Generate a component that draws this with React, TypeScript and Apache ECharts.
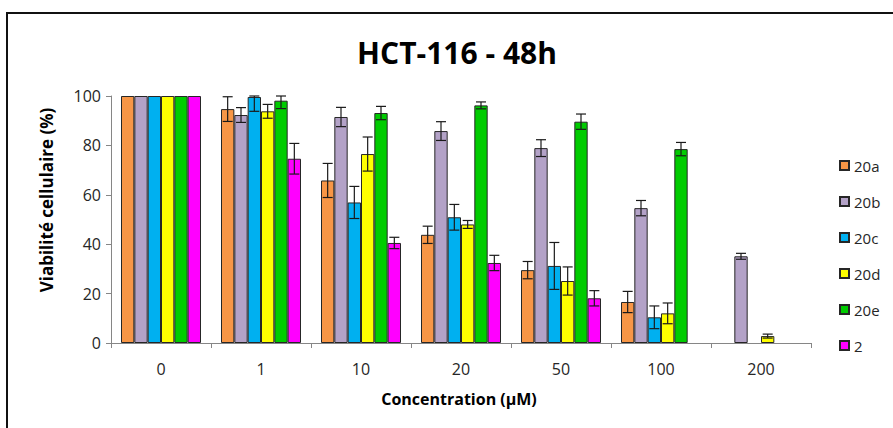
import React, { useEffect, useRef } from "react";
import * as echarts from "echarts";

const categories = ["0", "1", "10", "20", "50", "100", "200"];
const seriesNames = ["20a", "20b", "20c", "20d", "20e", "2"];
const seriesColors = ["#F79646", "#B3A2C7", "#00B0F0", "#FFFF00", "#00CC00", "#FF00FF"];

const v20a = [100, 94.7, 65.8, 43.8, 29.5, 16.6, null];
const v20b = [100, 92.3, 91.5, 85.8, 78.9, 54.6, 35.1];
const v20c = [100, 99.6, 56.9, 50.9, 31.2, 10.4, null];
const v20d = [100, 93.8, 76.5, 48.0, 25.1, 12.0, 2.8];
const v20e = [100, 98.1, 93.1, 96.2, 89.6, 78.5, null];
const v2 = [100, 74.6, 40.5, 32.4, 18.1, null, null];

const e20a = [0, 5.0, 6.9, 3.5, 3.5, 4.3, null];
const e20b = [0, 3.0, 3.9, 3.8, 3.4, 3.1, 1.2];
const e20c = [0, 5.8, 6.5, 5.2, 9.5, 4.6, null];
const e20d = [0, 2.8, 6.9, 1.6, 5.7, 4.2, 0.8];
const e20e = [0, 3.2, 2.7, 1.4, 3.1, 2.7, null];
const e2 = [0, 6.2, 2.3, 3.1, 3.1, null, null];

const allValues = [v20a, v20b, v20c, v20d, v20e, v2];
const allErrors = [e20a, e20b, e20c, e20d, e20e, e2];

const FONT = "'Open Sans', 'Liberation Sans', sans-serif";

export default function App() {
  const ref = useRef<HTMLDivElement>(null);

  useEffect(() => {
    if (!ref.current) return;
    const chart = echarts.init(ref.current, null, { renderer: "svg" });
    const nSeries = seriesNames.length;

    const barSeries = seriesNames.map((name, i) => ({
      name,
      type: "bar",
      data: allValues[i].map((v) => (v === null ? "-" : v)),
      barGap: "0%",
      barCategoryGap: "20%",
      itemStyle: { color: seriesColors[i], borderColor: "#262626", borderWidth: 1 },
      z: 2,
    }));

    const errSeries = seriesNames.map((name, i) => ({
      name: name + "-err",
      type: "custom",
      z: 5,
      silent: true,
      data: allValues[i]
        .map((v, k) => (v === null || !allErrors[i][k] ? null : [k, v, allErrors[i][k]]))
        .filter((d) => d !== null),
      renderItem: (params: any, api: any) => {
        const x = api.value(0);
        const v = api.value(1);
        const e = api.value(2);
        const cw = api.size([1, 0])[0];
        const bw = (cw * 0.8) / nSeries;
        const base = api.coord([x, v]);
        const cx = base[0] - cw * 0.4 + bw * (i + 0.5);
        const top = api.coord([x, Math.min(v + e, 100)])[1];
        const bot = api.coord([x, Math.max(v - e, 0)])[1];
        const cap = 5;
        const style = { stroke: "#1a1a1a", lineWidth: 1.2 };
        return {
          type: "group",
          children: [
            { type: "line", shape: { x1: cx, y1: top, x2: cx, y2: bot }, style },
            { type: "line", shape: { x1: cx - cap, y1: top, x2: cx + cap, y2: top }, style },
            { type: "line", shape: { x1: cx - cap, y1: bot, x2: cx + cap, y2: bot }, style },
          ],
        };
      },
    }));

    chart.setOption({
      animation: false,
      grid: { left: 111, right: 82, top: 96, bottom: 85, containLabel: false },
      legend: {
        data: seriesNames,
        orient: "vertical",
        left: 834,
        top: 153,
        itemWidth: 9,
        itemHeight: 9,
        itemGap: 21,
        icon: "rect",
        textStyle: { fontFamily: FONT, fontSize: 15, color: "#262626" },
      },
      graphic: [
        { type: "line", shape: { x1: 7, y1: 13, x2: 893, y2: 13 }, style: { stroke: "#111", lineWidth: 2 } },
        { type: "line", shape: { x1: 7, y1: 12, x2: 7, y2: 428 }, style: { stroke: "#111", lineWidth: 2 } },
        {
          type: "text",
          x: 457,
          y: 52,
          style: {
            text: "HCT-116 - 48h",
            font: `bold 30px ${FONT}`,
            fill: "#000",
            align: "center",
            verticalAlign: "middle",
          },
        },
        {
          type: "text",
          x: 459,
          y: 399,
          style: {
            text: "Concentration (µM)",
            font: `bold 16px ${FONT}`,
            fill: "#000",
            align: "center",
            verticalAlign: "middle",
          },
        },
        {
          type: "text",
          x: 46,
          y: 200,
          rotation: Math.PI / 2,
          style: {
            text: "Viabilité cellulaire (%)",
            font: `bold 17px ${FONT}`,
            fill: "#000",
            align: "center",
            verticalAlign: "middle",
          },
        },
      ],
      xAxis: {
        type: "category",
        data: categories,
        axisLine: { show: true, lineStyle: { color: "#868686", width: 1 } },
        axisTick: { show: true, length: 5, lineStyle: { color: "#868686" } },
        axisLabel: { fontFamily: FONT, fontSize: 16, color: "#262626", margin: 18 },
        splitLine: { show: false },
      },
      yAxis: {
        type: "value",
        min: 0,
        max: 100,
        interval: 20,
        axisLine: { show: true, lineStyle: { color: "#868686", width: 1 } },
        axisTick: { show: true, length: 5, lineStyle: { color: "#868686" } },
        axisLabel: { fontFamily: FONT, fontSize: 16, color: "#262626", margin: 10 },
        splitLine: { show: false },
      },
      series: [...barSeries, ...errSeries],
    });

    return () => chart.dispose();
  }, []);

  return (
    <div
      ref={ref}
      style={{ position: "absolute", left: 0, top: 0, width: 893, height: 428, background: "#fff" }}
    />
  );
}
